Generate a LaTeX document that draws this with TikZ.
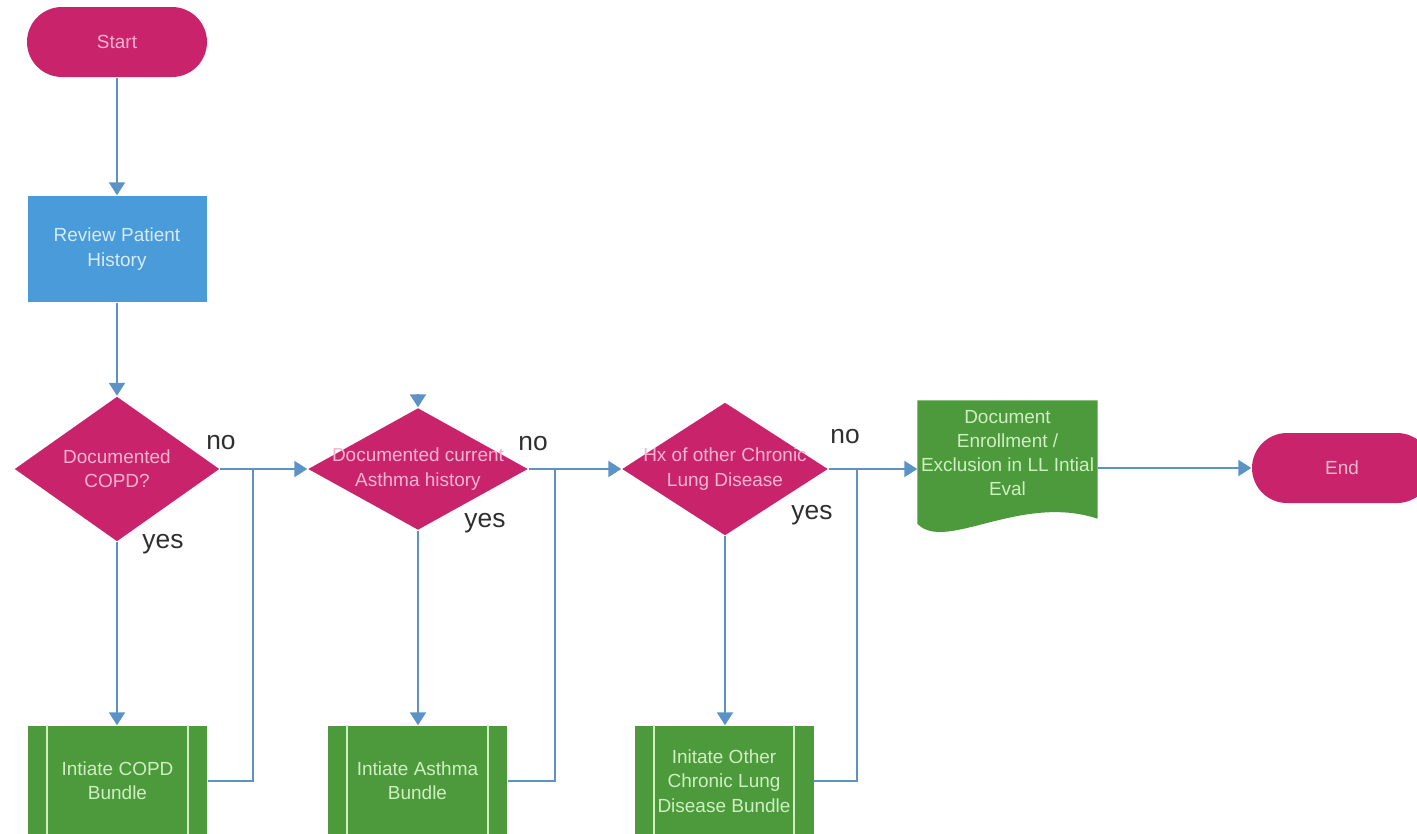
\documentclass[tikz,border=0pt]{standalone}
\usepackage{fontspec}
\setmainfont{Liberation Sans}
\usepackage{tikz}
\usetikzlibrary{arrows.meta,shapes.geometric,backgrounds,calc}

\definecolor{flowpink}{HTML}{C9246B}
\definecolor{pinktext}{HTML}{F6B4D2}
\definecolor{flowgreen}{HTML}{4C9A3B}
\definecolor{greentext}{HTML}{CFEFC2}
\definecolor{flowblue}{HTML}{4A9BDA}
\definecolor{bluetext}{HTML}{D6EBFA}
\definecolor{linkblue}{HTML}{5B93C6}
\definecolor{answergray}{HTML}{2E2E2E}

\begin{document}
\begin{tikzpicture}[
  every node/.style={font=\fontsize{5.4}{6.9}\selectfont},
  terminal/.style={fill=flowpink,text=pinktext,rounded corners=3.5mm,minimum width=1.8cm,minimum height=7mm,inner sep=0pt},
  process/.style={fill=flowblue,text=bluetext,align=center,minimum width=1.79cm,minimum height=1.06cm,inner sep=0pt},
  decision/.style={diamond,fill=flowpink,inner sep=0pt},
  decisiontext/.style={text=pinktext,align=center},
  bundle/.style={fill=flowgreen,text=greentext,align=center,minimum width=1.79cm,minimum height=1.1cm,inner sep=0pt},
  docshape/.style={text=greentext,align=center,minimum width=1.79cm,minimum height=1.04cm,inner sep=0pt},
  answer/.style={text=answergray,font=\fontsize{7.5}{9}\selectfont,inner sep=0pt},
  link/.style={draw=linkblue,line width=0.6pt},
  flowarrow/.style={link,-{Triangle[width=1.6mm,length=1.3mm]}}]
\useasboundingbox (0,0) rectangle (14.17,8.33);

\node[terminal] (start) at (1.17,7.91) {Start};
\node[process] (review) at (1.17,5.84) {Review Patient\\History};
\node[decision,minimum width=2.05cm,minimum height=1.45cm,label={[decisiontext]center:Documented\\COPD?}] (copd) at (1.17,3.64) {};
\node[decision,minimum width=2.2cm,minimum height=1.22cm,label={[decisiontext]center:Documented current\\Asthma history}] (asthma) at (4.18,3.64) {};
\node[decision,minimum width=2.06cm,minimum height=1.33cm,label={[decisiontext]center:Hx of other Chronic\\Lung Disease}] (other) at (7.25,3.64) {};
\node[bundle] (copdb) at (1.175,0.52) {Intiate COPD\\Bundle};
\node[bundle] (asthmab) at (4.175,0.52) {Intiate Asthma\\Bundle};
\node[bundle] (otherb) at (7.24,0.52) {Initate Other\\Chronic Lung\\Disease Bundle};
\node[docshape] (enroll) at (10.075,3.80) {Document\\Enrollment /\\Exclusion in LL Intial\\Eval};
\node[terminal] (end) at (13.42,3.65) {End};

% yes / no answers
\node[answer] (no1) at (2.21,3.90) {no};
\node[answer] (yes1) at (1.63,2.89) {yes};
\node[answer] (no2) at (5.33,3.89) {no};
\node[answer] (yes2) at (4.85,3.10) {yes};
\node[answer] (no3) at (8.45,3.96) {no};
\node[answer] (yes3) at (8.12,3.18) {yes};

% document shape
\begin{scope}[on background layer]
\fill[flowgreen] (enroll.north west) -- (enroll.north east) -- ($(enroll.south east)+(0,-0.13)$) .. controls (10.2,3.40) and (9.45,2.80) .. ($(enroll.south west)+(0,-0.18)$) -- cycle;
\end{scope}

% bundle side bars
\foreach \b in {copdb,asthmab,otherb}{
  \draw[greentext,line width=0.5pt] ([xshift=2mm]\b.north west) -- ([xshift=2mm]\b.south west);
  \draw[greentext,line width=0.5pt] ([xshift=-2mm]\b.north east) -- ([xshift=-2mm]\b.south east);
}

\draw[flowarrow] (start) -- (review);
\draw[flowarrow] (review) -- (copd);
\draw[flowarrow] (copd.south) -- (copd.south |- copdb.north);
\draw[flowarrow] (copd) -- (asthma);
\draw[flowarrow] ([yshift=1.3mm]asthma.north) -- (asthma.north);
\draw[flowarrow] (asthma.south) -- (asthma.south |- asthmab.north);
\draw[flowarrow] (asthma) -- (other);
\draw[flowarrow] (other.south) -- (other.south |- otherb.north);
\draw[flowarrow] (other.east) -- (other.east -| enroll.west);
\draw[flowarrow] (end.west -| enroll.east) -- (end);

\coordinate (j1) at (2.53,3.64);
\coordinate (j2) at (5.55,3.64);
\coordinate (j3) at (8.57,3.64);
\draw[link] (copdb.east) -| (j1);
\draw[link] (asthmab.east) -| (j2);
\draw[link] (otherb.east) -| (j3);
\end{tikzpicture}
\end{document}
